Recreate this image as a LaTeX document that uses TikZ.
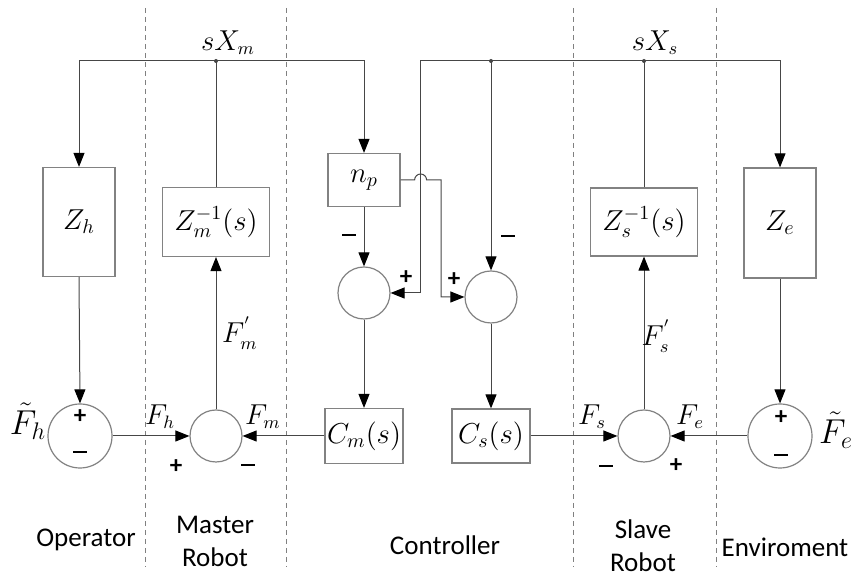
\documentclass[tikz,border=0pt]{standalone}
\usepackage{amsmath,amssymb}
\usepackage{fontspec}
\setsansfont{Carlito}
\usepackage{xcolor}
\usetikzlibrary{arrows.meta,positioning,calc}
\definecolor{linegray}{RGB}{70,70,70}
\definecolor{boxgray}{RGB}{130,130,130}
\newcommand{\msign}{\rule[2.8pt]{7pt}{1.1pt}}

\begin{document}
\begin{tikzpicture}[x=0.5pt, y=-0.5pt,
    blk/.style={draw=boxgray, fill=white, line width=0.6pt, inner sep=0pt, font=\fontsize{14.5}{16}\selectfont},
    sumc/.style={circle, draw=boxgray, fill=white, line width=0.6pt, inner sep=0pt, minimum size=26pt},
    wire/.style={draw=linegray, line width=0.5pt},
    sig/.style={wire, -{Triangle[length=7pt, width=5.5pt, color=black]}},
    sgn/.style={font=\sffamily\bfseries\fontsize{12.5}{13}\selectfont},
    lbl/.style={font=\fontsize{13.5}{15}\selectfont},
    zonelbl/.style={font=\sffamily\fontsize{13.5}{16.5}\selectfont, align=center},
    zone/.style={dash pattern=on 2.5pt off 2pt, gray, line width=0.4pt}]
    \useasboundingbox (0,0) rectangle (858,581);
    % Zones
    \draw[zone] (145,8) -- (145,567);
    \draw[zone] (286,8) -- (286,567);
    \draw[zone] (573,8) -- (573,567);
    \draw[zone] (716,8) -- (716,567);
    % Blocks
    \node[blk, minimum width=36pt, minimum height=54.5pt] (zh) at (79,222) {$Z_h$};
    \node[blk, minimum width=53.5pt, minimum height=34.5pt] (zm) at (216,222) {$Z_m^{-1}(s)$};
    \node[blk, minimum width=36pt, minimum height=26.5pt] (np) at (364,180) {$n_p$};
    \node[blk, minimum width=39pt, minimum height=27.5pt] (cm) at (364,436) {$C_m(s)$};
    \node[blk, minimum width=39pt, minimum height=27pt] (cs) at (491,436) {$C_s(s)$};
    \node[blk, minimum width=53.5pt, minimum height=34pt] (zs) at (644,222) {$Z_s^{-1}(s)$};
    \node[blk, minimum width=36pt, minimum height=55pt] (ze) at (780,223) {$Z_e$};
    % Summing points
    \node[sumc, minimum size=32pt] (op) at (80,436) {};
    \node[sumc] (ms) at (216,436) {};
    \node[sumc] (c1) at (364,293) {};
    \node[sumc] (c2) at (491,297) {};
    \node[sumc] (ss) at (644,436) {};
    \node[sumc, minimum size=32pt] (en) at (780,436) {};
    % Velocity lines
    \coordinate (tm) at (216,61);
    \coordinate (ts) at (644,61);
    \coordinate (tc) at (491,61);
    \coordinate (fd) at (420,61);
    \coordinate (hp) at (441,180);
    \draw[wire] (zm.north) -- (tm);
    \draw[sig] (tm) -| (zh.north);
    \draw[sig] (tm) -| (np.north);
    \draw[wire] (zs.north) -- (ts);
    \draw[sig] (ts) -| (ze.north);
    \draw[sig] (ts) -- (fd) |- (c1.east);
    \draw[sig] (tc) -- (c2.north);
    \fill[linegray] (tm) circle (1pt) (ts) circle (1pt) (tc) circle (1pt);
    % Controller
    \draw[sig] (np.south) -- (c1.north);
    \draw[sig] (np.east) -- ++(14,0) arc[start angle=180, end angle=0, radius=3pt] -- (hp) |- (c2.west);
    \draw[sig] (c1.south) -- (cm.north);
    \draw[sig] (c2.south) -- (cs.north);
    % Master side
    \draw[sig] (zh.south) -- (op.north);
    \draw[sig] (op.east) -- (ms.west);
    \draw[sig] (cm.west) -- (ms.east);
    \draw[sig] (ms.north) -- (zm.south);
    % Slave side
    \draw[sig] (ze.south) -- (en.north);
    \draw[sig] (en.west) -- (ss.east);
    \draw[sig] (cs.east) -- (ss.west);
    \draw[sig] (ss.north) -- (zs.south);
    % Signal names
    \node[lbl] (sxm) at (228,43) {$sX_m$};
    \node[lbl] (sxs) at (655,43) {$sX_s$};
    \node[lbl] (fh) at (160,417) {$F_h$};
    \node[lbl] (fm) at (263,417) {$F_m$};
    \node[lbl] (fmp) at (240,333) {$F^{'}_m$};
    \node[lbl] (fs) at (592,417) {$F_s$};
    \node[lbl] (fe) at (690,417) {$F_e$};
    \node[lbl] (fsp) at (656,336) {$F^{'}_s$};
    \node[lbl, font=\fontsize{16.5}{18}\selectfont] (fht) at (28,421) {$\tilde{F}_h$};
    \node[lbl, font=\fontsize{16.5}{18}\selectfont] (fet) at (836,430) {$\tilde{F}_e$};
    % Signs
    \node[sgn] (op1) at (80,417) {+};
    \node[sgn] (op2) at (80,455) {\msign};
    \node[sgn] (ms1) at (176,467) {+};
    \node[sgn] (ms2) at (248,468) {\msign};
    \node[sgn] (c1a) at (349,238) {\msign};
    \node[sgn] (c1b) at (406,278) {+};
    \node[sgn] (c2a) at (508,239) {\msign};
    \node[sgn] (c2b) at (454,280) {+};
    \node[sgn] (ss1) at (606,469) {\msign};
    \node[sgn] (ss2) at (676,466) {+};
    \node[sgn] (en1) at (781,418) {+};
    \node[sgn] (en2) at (781,458) {\msign};
    % Zone names
    \node[zonelbl] (opl) at (86,540) {Operator};
    \node[zonelbl] (msl) at (215,541) {Master\\Robot};
    \node[zonelbl] (ctl) at (445,545) {Controller};
    \node[zonelbl] (ssl) at (643,546) {Slave\\Robot};
    \node[zonelbl] (enl) at (785,547) {Enviroment};
\end{tikzpicture}
\end{document}
